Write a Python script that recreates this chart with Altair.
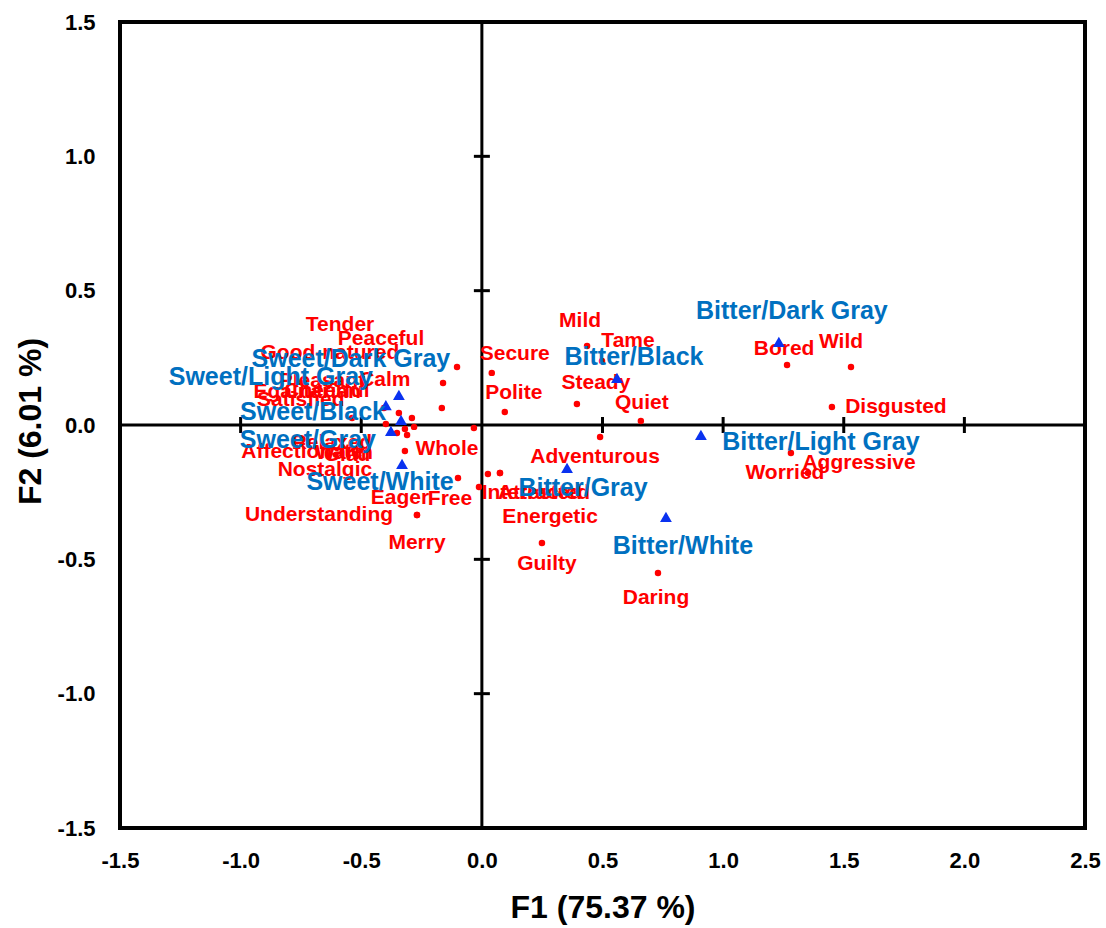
import altair as alt
import pandas as pd

# Plot geometry (plot area only) and axis domains
PLOT_W, PLOT_H = 965, 806
X_DOMAIN = [-1.5, 2.5]
Y_DOMAIN = [-1.5, 1.5]
PX_X = (X_DOMAIN[1] - X_DOMAIN[0]) / PLOT_W   # data units per pixel, x
PX_Y = (Y_DOMAIN[1] - Y_DOMAIN[0]) / PLOT_H   # data units per pixel, y

FONT = "Liberation Sans"

# Samples (taste/colour combinations) on F1/F2
sample_names = ["Bitter/Dark Gray", "Bitter/Black", "Bitter/Light Gray", "Bitter/Gray",
                "Bitter/White", "Sweet/Dark Gray", "Sweet/Light Gray", "Sweet/Black",
                "Sweet/Gray", "Sweet/White"]
sample_f1 = [1.231, 0.560, 0.908, 0.353, 0.763, -0.344, -0.398, -0.335, -0.377, -0.331]
sample_f2 = [0.309, 0.175, -0.037, -0.160, -0.342, 0.112, 0.074, 0.019, -0.022, -0.145]
# label placement relative to the marker, in pixels
sample_dx = [13, 17, 120, 16, 17, -48, -115, -88, -83, -22]
sample_dy = [-31, -21, 7, 20, 29, -36, -28, -8, 9, 18]

# Emotion attributes on F1/F2
attr_names = ["Bored", "Wild", "Disgusted", "Worried", "Aggressive", "Mild", "Tame",
              "Secure", "Polite", "Steady", "Quiet", "Adventurous", "Guilty", "Daring",
              "Energetic", "Interested", "Attracted", "Free", "Eager", "Understanding",
              "Merry", "Tender", "Peaceful", "Calm", "Good-natured", "Pleasant",
              "Cheerful", "Egalitarian", "Satisfied", "Relaxed", "Warm", "Glad",
              "Affectionate", "Nostalgic", "Whole"]
attr_f1 = [1.265, 1.530, 1.451, 1.281, 1.352, 0.436, 0.498,
           0.041, 0.095, 0.394, 0.659, 0.490, 0.249, 0.730,
           0.075, 0.025, 0.075, -0.012, -0.099, -0.269,
           -0.269, -0.103, -0.161, -0.166, -0.344, -0.406,
           -0.290, -0.538, -0.398, -0.319, -0.281, -0.310,
           -0.352, -0.319, -0.033]
attr_f2 = [0.223, 0.216, 0.067, -0.104, -0.179, 0.294, 0.238,
           0.194, 0.048, 0.078, 0.015, -0.045, -0.439, -0.551,
           -0.179, -0.182, -0.179, -0.231, -0.197, -0.335,
           -0.335, 0.216, 0.156, 0.063, 0.045, 0.063,
           0.026, 0.026, 0.004, -0.015, -0.007, -0.037,
           -0.030, -0.097, -0.011]
attr_dx = [-3, -10, 64, -6, 51, -7, 26,
           23, 9, 19, 1, -5, 5, -2,
           50, 44, 44, -29, -58, -98,
           0, -117, -62, -57, -69, -62,
           -85, -45, -85, -73, -70, -60,
           -95, -80, -27]
attr_dy = [-16, -25, 0, 20, -10, -25, -20,
           -19, -19, -21, -18, 20, 21, 25,
           44, 19, 20, 12, 20, 0,
           28, -42, -44, -28, -60, -27,
           -27, -26, -24, 14, 26, 20,
           19, 19, 21]

# Tick positions drawn across the zero axes
x_ticks = [-1.0, -0.5, 0.5, 1.0, 1.5, 2.0]
y_ticks = [-1.0, -0.5, 0.5, 1.0]
TICK_HALF = 8  # pixels

samples = pd.DataFrame({"name": sample_names, "f1": sample_f1, "f2": sample_f2})
samples["lx"] = samples["f1"] + pd.Series(sample_dx) * PX_X
samples["ly"] = samples["f2"] - pd.Series(sample_dy) * PX_Y

attrs = pd.DataFrame({"name": attr_names, "f1": attr_f1, "f2": attr_f2})
attrs["lx"] = attrs["f1"] + pd.Series(attr_dx) * PX_X
attrs["ly"] = attrs["f2"] - pd.Series(attr_dy) * PX_Y

xt = pd.DataFrame({"x": x_ticks})
xt["y1"] = -TICK_HALF * PX_Y
xt["y2"] = TICK_HALF * PX_Y
yt = pd.DataFrame({"y": y_ticks})
yt["x1"] = -TICK_HALF * PX_X
yt["x2"] = TICK_HALF * PX_X

x_scale = alt.Scale(domain=X_DOMAIN, nice=False, zero=False)
y_scale = alt.Scale(domain=Y_DOMAIN, nice=False, zero=False)

# plain hyphen for negative tick labels
LABEL_EXPR = "replace(format(datum.value, '.1f'), '\u2212', '-')"

x_axis = alt.Axis(
    title="F1 (75.37 %)", values=[-1.5, -1.0, -0.5, 0.0, 0.5, 1.0, 1.5, 2.0, 2.5],
    labelExpr=LABEL_EXPR, grid=False, ticks=False, domain=False,
    labelFont=FONT, labelFontSize=22, labelFontWeight="bold", labelColor="black",
    labelPadding=22, labelFlush=False, labelOverlap=False,
    titleFont=FONT, titleFontSize=32, titleFontWeight="bold", titleColor="black",
    titleY=89, titleBaseline="alphabetic",
)
y_axis = alt.Axis(
    title="F2 (6.01 %)", values=[-1.5, -1.0, -0.5, 0.0, 0.5, 1.0, 1.5],
    labelExpr=LABEL_EXPR, grid=False, ticks=False, domain=False,
    labelFont=FONT, labelFontSize=22, labelFontWeight="bold", labelColor="black",
    labelPadding=25, labelFlush=False, labelOverlap=False,
    titleFont=FONT, titleFontSize=32, titleFontWeight="bold", titleColor="black",
    titleX=-90, titleY=399, titleAngle=270, titleBaseline="middle", titleAlign="center",
)

# Invisible layer carrying the axes
axes = alt.Chart(attrs).mark_point(opacity=0).encode(
    x=alt.X("f1:Q", scale=x_scale, axis=x_axis),
    y=alt.Y("f2:Q", scale=y_scale, axis=y_axis),
)

zero_v = alt.Chart(pd.DataFrame({"x": [0.0]})).mark_rule(color="black", strokeWidth=3).encode(
    x=alt.X("x:Q", scale=x_scale))
zero_h = alt.Chart(pd.DataFrame({"y": [0.0]})).mark_rule(color="black", strokeWidth=3).encode(
    y=alt.Y("y:Q", scale=y_scale))

ticks_x = alt.Chart(xt).mark_rule(color="black", strokeWidth=3).encode(
    x=alt.X("x:Q", scale=x_scale), y=alt.Y("y1:Q", scale=y_scale), y2="y2:Q")
ticks_y = alt.Chart(yt).mark_rule(color="black", strokeWidth=3).encode(
    y=alt.Y("y:Q", scale=y_scale), x=alt.X("x1:Q", scale=x_scale), x2="x2:Q")

attr_dots = alt.Chart(attrs).mark_circle(color="#FF0000", size=42, opacity=1).encode(
    x=alt.X("f1:Q", scale=x_scale), y=alt.Y("f2:Q", scale=y_scale))
attr_labels = alt.Chart(attrs).mark_text(
    color="#FF0000", font=FONT, fontSize=21, fontWeight="bold",
    align="center", baseline="middle").encode(
    x=alt.X("lx:Q", scale=x_scale), y=alt.Y("ly:Q", scale=y_scale), text="name:N")

sample_marks = alt.Chart(samples).mark_point(
    shape="triangle-up", filled=True, color="#0A32F0", size=140, opacity=1).encode(
    x=alt.X("f1:Q", scale=x_scale), y=alt.Y("f2:Q", scale=y_scale))
sample_labels = alt.Chart(samples).mark_text(
    color="#0070C0", font=FONT, fontSize=25, fontWeight="bold",
    align="center", baseline="middle").encode(
    x=alt.X("lx:Q", scale=x_scale), y=alt.Y("ly:Q", scale=y_scale), text="name:N")

chart = alt.layer(
    axes, zero_v, zero_h, ticks_x, ticks_y,
    attr_dots, attr_labels, sample_marks, sample_labels,
).properties(
    width=PLOT_W, height=PLOT_H,
    autosize=alt.AutoSizeParams(type="none"),
    padding={"left": 120, "top": 22, "right": 21, "bottom": 100},
    background="white",
).configure_view(stroke="black", strokeWidth=4)

chart.save("out.html", embed_options={"renderer": "svg", "actions": False})
